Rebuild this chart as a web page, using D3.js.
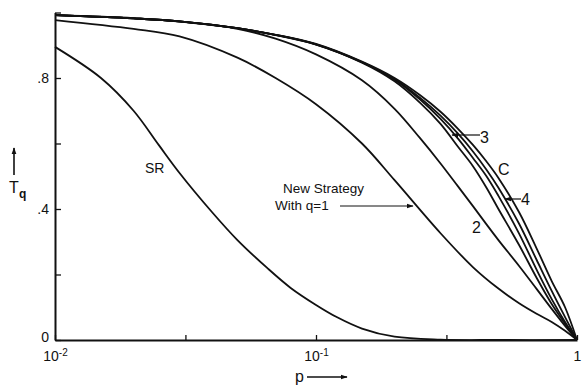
<!DOCTYPE html>
<html><head><meta charset="utf-8">
<script src="https://cdn.jsdelivr.net/npm/d3@7"></script>
<style>
html,body{margin:0;padding:0;background:#fff;}
svg{display:block;font-family:"Liberation Sans","DejaVu Sans",sans-serif;}
</style></head>
<body>
<svg id="chart" width="583" height="385"></svg>
<script>
// ---- data ----
const pSR   = [0.01,0.015,0.02,0.025,0.03,0.04,0.05,0.065,0.08,0.1,0.12,0.15,0.2,0.3,0.5,1];
const tSR   = [0.895,0.80,0.70,0.595,0.51,0.39,0.305,0.22,0.159,0.107,0.07,0.035,0.01,0.001,0,0];

const pQ1   = [0.01,0.02,0.03,0.05,0.07,0.1,0.15,0.2,0.3,0.4,0.5,0.6,0.7,0.8,0.9,1];
const tQ1   = [0.977,0.95,0.927,0.862,0.80,0.72,0.60,0.488,0.326,0.222,0.157,0.112,0.08,0.055,0.028,0];

const pQ2   = [0.01,0.02,0.03,0.05,0.07,0.1,0.15,0.2,0.25,0.3,0.35,0.4,0.45,0.5,0.6,0.7,0.8,0.9,1];
const tQ2   = [0.992,0.983,0.972,0.95,0.92,0.872,0.793,0.706,0.617,0.539,0.469,0.408,0.353,0.305,0.226,0.156,0.095,0.043,0];

const pGrp  = [0.01,0.02,0.03,0.05,0.07,0.1,0.15,0.2,0.25,0.3,0.35,0.4,0.45,0.5,0.6,0.7,0.8,0.9,1];
const tQ3   = [0.992,0.982,0.973,0.952,0.931,0.902,0.847,0.79,0.725,0.66,0.59,0.53,0.465,0.40,0.29,0.19,0.11,0.05,0];
const tQx   = [0.992,0.982,0.973,0.952,0.932,0.903,0.848,0.795,0.735,0.675,0.615,0.555,0.50,0.44,0.325,0.215,0.125,0.055,0];
const tQ4   = [0.992,0.982,0.973,0.952,0.932,0.903,0.849,0.797,0.74,0.685,0.63,0.575,0.52,0.465,0.355,0.245,0.15,0.07,0];
const tC    = [0.992,0.982,0.973,0.952,0.932,0.904,0.850,0.80,0.748,0.697,0.645,0.595,0.545,0.495,0.39,0.28,0.18,0.10,0];

const yTicks = [0,0.2,0.4,0.6,0.8,1.0];
const yTickLabels = {"0":"0","0.4":".4","0.8":".8"};
const xTicks = [0.01,0.0316,0.1,0.316,1];
const xTickLabels = {"0.01":["10","-2"],"0.1":["10","-1"],"1":["1",""]};

// ---- drawing ----
const svg = d3.select("#chart");
const x = d3.scaleLog().domain([0.01,1]).range([55,577]);
const y = d3.scaleLinear().domain([0,1]).range([340,12.5]);
const ink = "#111";

const defs = svg.append("defs");
defs.append("marker").attr("id","ah").attr("viewBox","0 0 10 10")
  .attr("refX",9).attr("refY",5).attr("markerWidth",7).attr("markerHeight",7)
  .attr("orient","auto-start-reverse").attr("markerUnits","userSpaceOnUse")
  .append("path").attr("d","M0,1.5L10,5L0,8.5Z").attr("fill",ink);

// axes
const yAxis = d3.axisLeft(y).tickValues(yTicks).tickSizeInner(-6).tickSizeOuter(0).tickPadding(6)
  .tickFormat(d => yTickLabels[String(d)] || "");
const gy = svg.append("g").attr("transform","translate(55,0)").call(yAxis);
const xAxis = d3.axisBottom(x).tickValues(xTicks).tickSizeInner(-5).tickSizeOuter(0).tickPadding(11)
  .tickFormat(() => "");
const gx = svg.append("g").attr("transform","translate(0,340)").call(xAxis);
[gx,gy].forEach(g=>{
  g.select(".domain").attr("stroke",ink).attr("stroke-width",2);
  g.selectAll(".tick line").attr("stroke",ink).attr("stroke-width",1.3);
  g.selectAll("text").attr("fill",ink).attr("font-size",14).attr("font-family","Liberation Sans, sans-serif");
});
gy.selectAll(".tick text").filter(d=>d===0).attr("dy","0.1em");
gx.selectAll(".tick text").each(function(d){
  const lab = xTickLabels[String(d)];
  if(!lab) return;
  const t = d3.select(this);
  t.append("tspan").text(lab[0]);
  if(lab[1]) t.append("tspan").attr("dy","-0.45em").attr("font-size",10).text(lab[1]);
});

// curves
const line = d3.line().x(d=>x(d[0])).y(d=>y(d[1])).curve(d3.curveCatmullRom.alpha(0.5));
const series = [
  [pSR,tSR],[pQ1,tQ1],[pQ2,tQ2],[pGrp,tQ3],[pGrp,tQx],[pGrp,tQ4],[pGrp,tC]
];
series.forEach(([ps,ts])=>{
  svg.append("path").datum(ps.map((p,i)=>[p,ts[i]]))
    .attr("d",line).attr("fill","none").attr("stroke",ink)
    .attr("stroke-width",1.8).attr("stroke-linejoin","round");
});

// labels
function txt(xp,yp,s,size){
  return svg.append("text").attr("x",xp).attr("y",yp).attr("fill",ink)
    .attr("font-size",size||15).text(s);
}
function arrow(x1,y1,x2,y2,w){
  svg.append("line").attr("x1",x1).attr("y1",y1).attr("x2",x2).attr("y2",y2)
    .attr("stroke",ink).attr("stroke-width",w||1.2).attr("marker-end","url(#ah)");
}
txt(145,173,"SR",14);
txt(283,193,"New Strategy",13.5);
txt(275,210,"With q=1",13.5);
arrow(340,206,413,206,1);
txt(480,143,"3",16);
arrow(480,135,452,135,1.2);
txt(498,175,"C",16);
txt(521,205,"4",16);
arrow(521,199,505,199,1.2);
txt(472,233,"2",16);

// axis titles
arrow(14,175,14,148,1.6);
txt(9,193,"T",16);
svg.append("text").attr("x",19).attr("y",198).attr("fill",ink).attr("font-size",12).attr("font-weight","bold").text("q");
txt(295,382,"p",16);
arrow(307,377,347,377,1.6);
</script>
</body></html>
